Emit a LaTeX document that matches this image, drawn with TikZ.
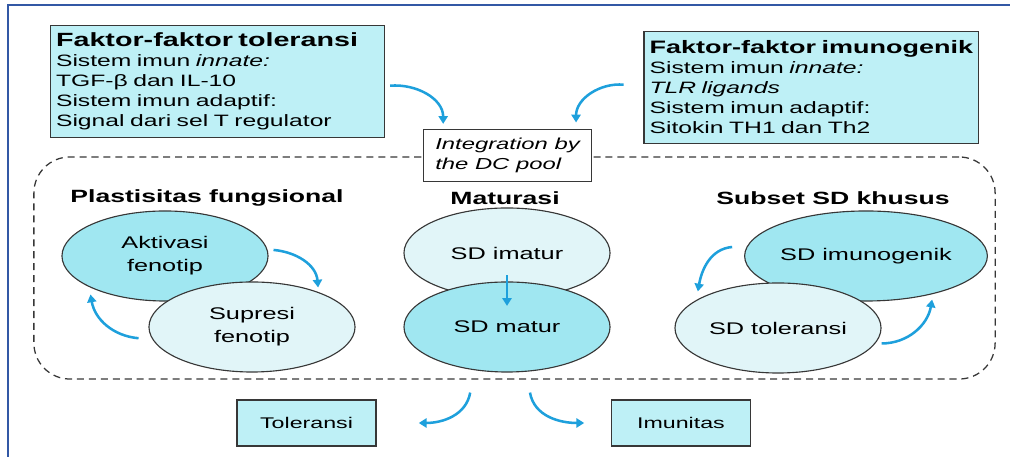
\documentclass[tikz,border=0pt]{standalone}
\usepackage{fontspec}
\setmainfont{Liberation Sans}[FakeStretch=1.5]
\usetikzlibrary{shapes.geometric,arrows.meta,positioning}
\definecolor{sdcyan}{RGB}{160,231,241}
\definecolor{sdlight}{RGB}{225,245,248}
\definecolor{boxcyan}{RGB}{190,240,246}
\definecolor{flowblue}{RGB}{30,160,220}
\definecolor{frameblue}{RGB}{50,88,165}
\definecolor{linegray}{RGB}{55,55,55}

\begin{document}
\begin{tikzpicture}[x=0.025cm,y=0.025cm,
fac/.style={draw=linegray, fill=boxcyan, line width=0.8pt, text width=8.07cm,
inner xsep=4pt, minimum height=2.82cm, align=left,
font=\fontsize{11.7}{14.2}\selectfont},
intg/.style={draw=linegray, fill=white, line width=0.7pt, minimum width=4.175cm,
minimum height=1.275cm, align=left, font=\fontsize{11.3}{14.2}\selectfont\itshape},
pool/.style={draw=linegray, dashed, dash pattern=on 5pt off 3.5pt, line width=0.9pt,
rounded corners=0.9cm, minimum width=24.025cm, minimum height=5.55cm},
head/.style={font=\fontsize{12.6}{15}\selectfont\bfseries},
sdc/.style={ellipse, draw=linegray, line width=0.8pt, fill=sdcyan, inner sep=0pt,
minimum width=5.15cm, minimum height=2.25cm, align=center,
font=\fontsize{12}{16.3}\selectfont},
sdl/.style={sdc, fill=sdlight},
outc/.style={draw=linegray, fill=boxcyan, line width=0.8pt, minimum width=3.475cm,
minimum height=1.15cm, font=\fontsize{11}{13}\selectfont},
flow/.style={-{Triangle[length=5.5pt,width=6.5pt]}, line width=1.8pt, draw=flowblue}
]
\useasboundingbox (0,0) rectangle (1010,457);
\draw[frameblue, line width=2pt] (8,0) -- (8,452) -- (1010,452);

\node[pool] (pool) at (514.5,189) {};
\node[intg] (intg) at (507.5,301.5) {Integration by\\the DC pool};

\node[fac] (tol) at (217.5,375.5) {\mbox{\fontsize{13.6}{14.2}\selectfont\bfseries Faktor-faktor toleransi}\\
Sistem imun \textit{innate:}\\TGF-β dan IL-10\\Sistem imun adaptif:\\Signal dari sel T regulator};
\node[fac] (imu) at (811,369.5) {\mbox{\fontsize{12.8}{14.2}\selectfont\bfseries Faktor-faktor imunogenik}\\
Sistem imun \textit{innate:}\\\textit{TLR ligands}\\Sistem imun adaptif:\\Sitokin TH1 dan Th2};

\node[head] (hplas) at (207,259) {Plastisitas fungsional};
\node[head] (hmat) at (505,259) {Maturasi};
\node[head] (hsub) at (833,259) {Subset SD khusus};

\node[sdc] (akt) at (165,201) {Aktivasi\\fenotip};
\node[sdl] (sup) at (252,130) {Supresi\\fenotip};
\node[sdl] (imat) at (507,204) {SD imatur};
\node[sdc] (mat) at (507,130) {SD matur};
\node[sdc, minimum width=5.45cm] (imun) at (866,201) {SD imunogenik};
\node[sdl] (tolsd) at (778,129) {SD toleransi};

\node[outc] (otol) at (306.5,34) {Toleransi};
\node[outc] (oimu) at (681,34) {Imunitas};

\draw[flow] ([shift={(3.5pt,-3pt)}]tol.east) to[out=5,in=90] ([shift={(14pt,4pt)}]intg.north west);
\draw[flow] ([shift={(-14pt,2pt)}]imu.west) to[out=175,in=90] ([shift={(-11pt,5pt)}]intg.north east);

\draw[flow] ([shift={(3.5pt,4.3pt)}]akt.east) to[out=-5,in=95] ([shift={(47pt,-4.3pt)}]sup.north);
\draw[flow] ([shift={(-7pt,-8pt)}]sup.west) to[out=175,in=-80] ([shift={(-53pt,5pt)}]akt.south);
\draw[flow] ([yshift=-16pt]imat.center) -- ([yshift=15pt]mat.center);
\draw[flow] ([shift={(-8.5pt,6.4pt)}]imun.west) to[out=185,in=80] ([shift={(-57pt,-6.4pt)}]tolsd.north);
\draw[flow] ([shift={(0pt,-11pt)}]tolsd.east) to[out=0,in=-100] ([shift={(47pt,1.4pt)}]imun.south);

\draw[flow] ([shift={(-31.5pt,-9.2pt)}]pool.south) to[out=-100,in=0] ([xshift=30pt]otol.east);
\draw[flow] ([shift={(11pt,-9.2pt)}]pool.south) to[out=-80,in=180] ([xshift=-19pt]oimu.west);

\end{tikzpicture}
\end{document}
